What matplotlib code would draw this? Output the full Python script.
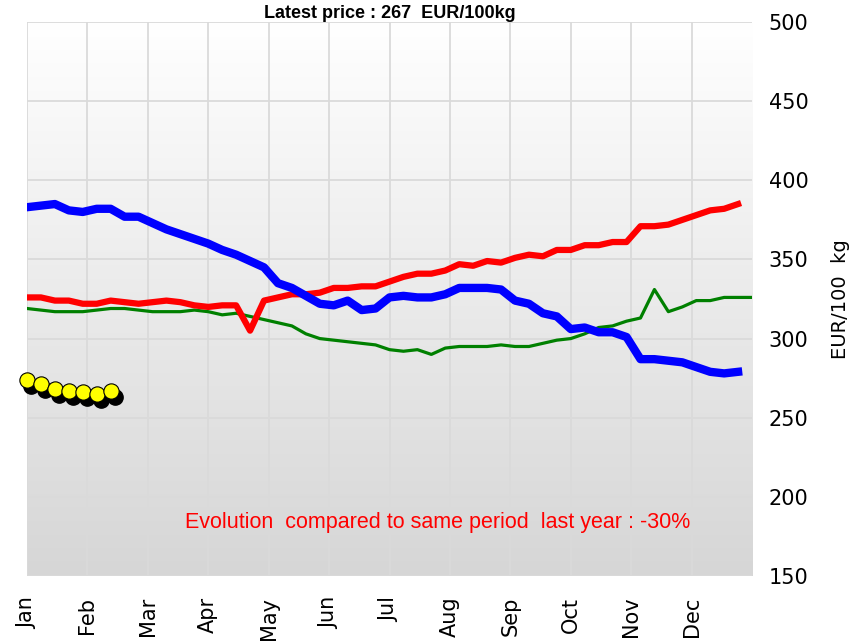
import numpy as np
import matplotlib.pyplot as plt
import matplotlib.transforms as mtransforms
from matplotlib.colors import LinearSegmentedColormap

# weekly prices, EUR/100 kg
months = ["Jan", "Feb", "Mar", "Apr", "May", "Jun",
          "Jul", "Aug", "Sep", "Oct", "Nov", "Dec"]

blue = [383, 384, 385, 381, 380, 382, 382, 377, 377, 373, 369, 366, 363,
        360, 356, 353, 349, 345, 335, 332, 327, 322, 321, 324, 318, 319,
        326, 327, 326, 326, 328, 332, 332, 332, 331, 324, 322, 316, 314,
        306, 307, 304, 304, 301, 287, 287, 286, 285, 282, 279, 278, 279]

red = [326, 326, 324, 324, 322, 322, 324, 323, 322, 323, 324, 323, 321,
       320, 321, 321, 305, 324, 326, 328, 328, 329, 332, 332, 333, 333,
       336, 339, 341, 341, 343, 347, 346, 349, 348, 351, 353, 352, 356,
       356, 359, 359, 361, 361, 371, 371, 372, 375, 378, 381, 382, 385]

green = [319, 318, 317, 317, 317, 318, 319, 319, 318, 317, 317, 317, 318,
         317, 315, 316, 314, 312, 310, 308, 303, 300, 299, 298, 297, 296,
         293, 292, 293, 290, 294, 295, 295, 295, 296, 295, 295, 297, 299,
         300, 303, 307, 308, 311, 313, 331, 317, 320, 324, 324, 326, 326, 326]

current = [274, 271.5, 268, 267, 266, 265, 267]

fig = plt.figure(figsize=(8.65, 6.44), dpi=100)
ax = fig.add_axes([0.0312, 0.1056, 0.8382, 0.8602])

# background gradient, white at the top to grey at the bottom
bg = LinearSegmentedColormap.from_list("bg", ["#ffffff", "#d6d6d6"])
grad = np.linspace(0, 1, 256).reshape(-1, 1)
ax.imshow(grad, extent=[0, 52, 150, 500], aspect="auto", cmap=bg,
          origin="upper", zorder=0)

ax.set_xlim(0, 52)
ax.set_ylim(150, 500)

ax.plot(range(len(green)), green, color="#008000", lw=2.3, zorder=3)
ax.plot(range(len(red)), red, color="#ff0000", lw=4.5, zorder=4)
ax.plot(range(len(blue)), blue, color="#0000ff", lw=6, zorder=5)

shadow = mtransforms.offset_copy(ax.transData, fig=fig, x=4, y=-6, units="dots")
xs = range(len(current))
ax.plot(xs, current, "o", color="black", ms=11, transform=shadow, zorder=6,
        clip_on=False)
ax.plot(xs, current, "o", color="#ffff00", mec="black", mew=0.8, ms=11,
        zorder=7, clip_on=False)

ax.set_xticks([52 / 12 * m for m in range(12)])
ax.set_xticklabels(months, rotation=90, fontsize=16.5, va="top")
ax.set_yticks(range(150, 501, 50))
ax.yaxis.tick_right()
ax.yaxis.set_label_position("right")
ax.tick_params(length=0, labelsize=15, pad=12)
ax.tick_params(axis="x", pad=15)
ax.set_ylabel("EUR/100  kg", fontsize=14, labelpad=16)

ax.grid(True, color="#dadada", lw=1.3, zorder=1)
ax.set_axisbelow(True)
for s in ax.spines.values():
    s.set_visible(False)

ax.set_title("Latest price : 267  EUR/100kg", fontsize=13, fontweight="bold",
             family=["Liberation Sans", "DejaVu Sans"], pad=2)

ax.text(0.566, 0.097, "Evolution  compared to same period  last year : -30%",
        transform=ax.transAxes, ha="center", va="center", color="#ff0000",
        fontsize=15.5, family=["Liberation Sans", "DejaVu Sans"])

fig.savefig("out.png", dpi=100)
